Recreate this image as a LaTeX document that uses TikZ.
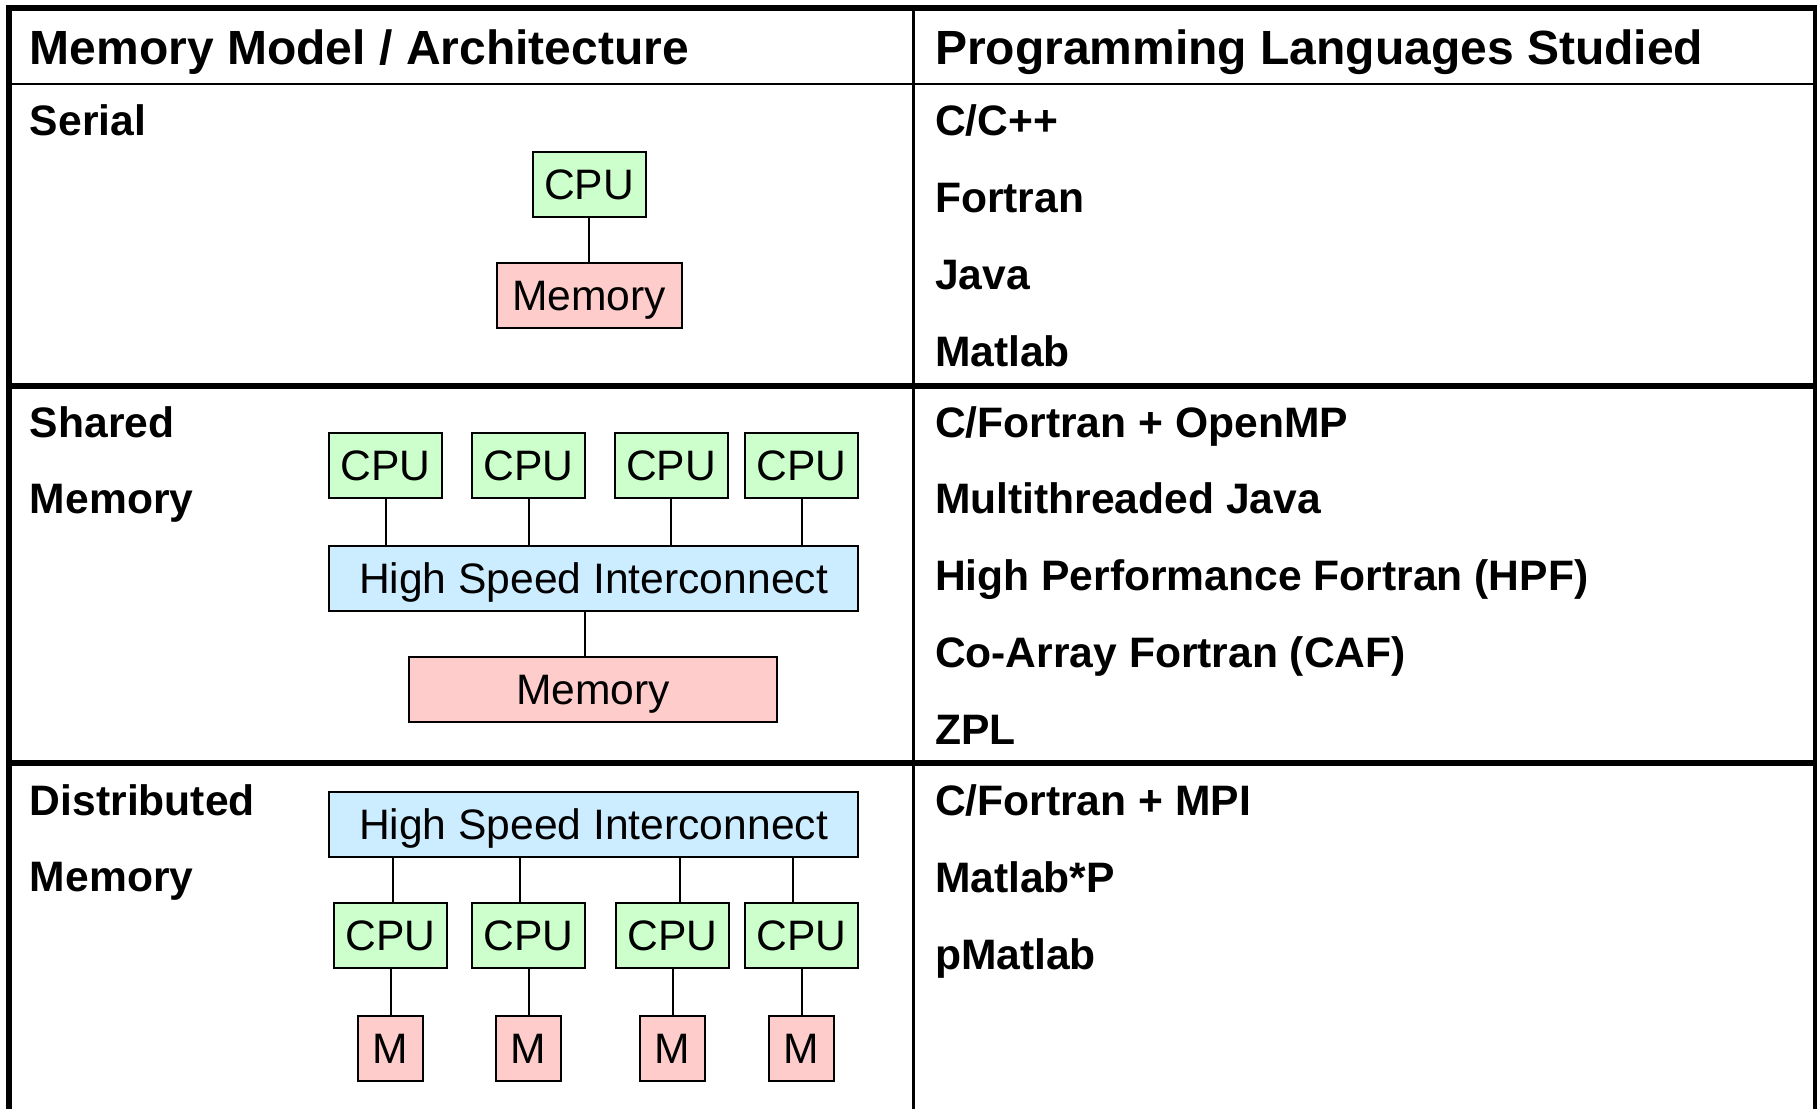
\documentclass[tikz,border=0pt]{standalone}
\usepackage{fontspec}
\setmainfont{Liberation Sans}
\definecolor{cpugreen}{HTML}{CCFFCC}
\definecolor{mempink}{HTML}{FFCCCC}
\definecolor{busblue}{HTML}{CCECFF}
\begin{document}
\begin{tikzpicture}[line width=1pt,x=0.5pt,y=-0.5pt]
      \tikzstyle{txt}=[anchor=base west,inner sep=0pt,font=\fontsize{21.3}{26}\selectfont\bfseries];
      \tikzstyle{head}=[txt,font=\fontsize{24}{28}\selectfont\bfseries];
      \tikzstyle{box}=[draw,inner sep=0pt,minimum height=32.5pt,text height=15pt,text depth=0pt,font=\fontsize{21.3}{26}\selectfont];
      \tikzstyle{cpu}=[box,fill=cpugreen,minimum width=56.5pt];
      \tikzstyle{mem}=[box,fill=mempink];
      \tikzstyle{bus}=[box,fill=busblue,minimum width=264.5pt];
      \useasboundingbox (0,0) rectangle (1817,1109);

      \draw[line width=3pt] (9,1109) -- (9,8) -- (1816,8) -- (1816,1109)
      (9,385.5) -- (1816,385.5)
      (9,762.5) -- (1816,762.5);
      \draw[line width=1.25pt] (9,84) -- (1816,84);
      \draw[line width=1.5pt] (913,8) -- (913,1109);

      \node[head] (hmodel) at (29,64) {Memory Model / Architecture};
      \node[head] (hlang) at (934,64) {Programming Languages Studied};

      \node[txt] (serial) at (29,135) {Serial};
      \node[txt] (shared) at (29,437) {Shared};
      \node[txt] (sharedm) at (29,513) {Memory};
      \node[txt] (distr) at (29,815) {Distributed};
      \node[txt] (distrm) at (29,891) {Memory};

      \foreach \t [count=\k] in {C/C++,Fortran,Java,Matlab}
        \node[txt] (la\k) at (934,{58+77*\k}) {\t};
      \foreach \t [count=\k] in {C/Fortran + OpenMP,Multithreaded Java,High Performance Fortran (HPF),Co-Array Fortran (CAF),ZPL}
        \node[txt] (lb\k) at (934,{360.2+76.8*\k}) {\t};
      \foreach \t [count=\k] in {C/Fortran + MPI,Matlab*P,pMatlab}
        \node[txt] (lc\k) at (934,{738+77*\k}) {\t};

      \node[cpu] (cpu) at (589,184.5) {CPU};
      \node[mem,minimum width=92.5pt] (mem) at (589,295.5) {Memory};
      \draw (cpu) -- (mem);

      \foreach \i/\x in {1/385.5,2/528.5,3/671,4/801.5}
        \node[cpu] (sc\i) at (\x,465.5) {CPU};
      \node[bus] (sbus) at (593.5,578) {High Speed Interconnect};
      \node[mem,minimum width=184pt] (smem) at (593,689.5) {Memory};
      \foreach \i in {1,...,4}
        \draw (sc\i) -- (sc\i |- sbus.north);
      \coordinate (stap) at ([xshift=-4.25pt]sbus.south);
      \draw (stap) -- (stap |- smem.north);

      \node[bus] (dbus) at (593.5,824.5) {High Speed Interconnect};
      \foreach \i/\x/\dx in {1/390.5/1.25,2/528.5/-4.25,3/672.5/3.75,4/801.5/-4.25} {
        \node[cpu] (dc\i) at (\x,935.5) {CPU};
        \node[mem,minimum width=32.5pt] (dm\i) at (\x,1048.5) {M};
        \coordinate (dt\i) at ([xshift=\dx pt]dc\i.north);
        \draw (dt\i) -- (dt\i |- dbus.south);
        \draw (dc\i) -- (dm\i);
      }
    \end{tikzpicture}
\end{document}
